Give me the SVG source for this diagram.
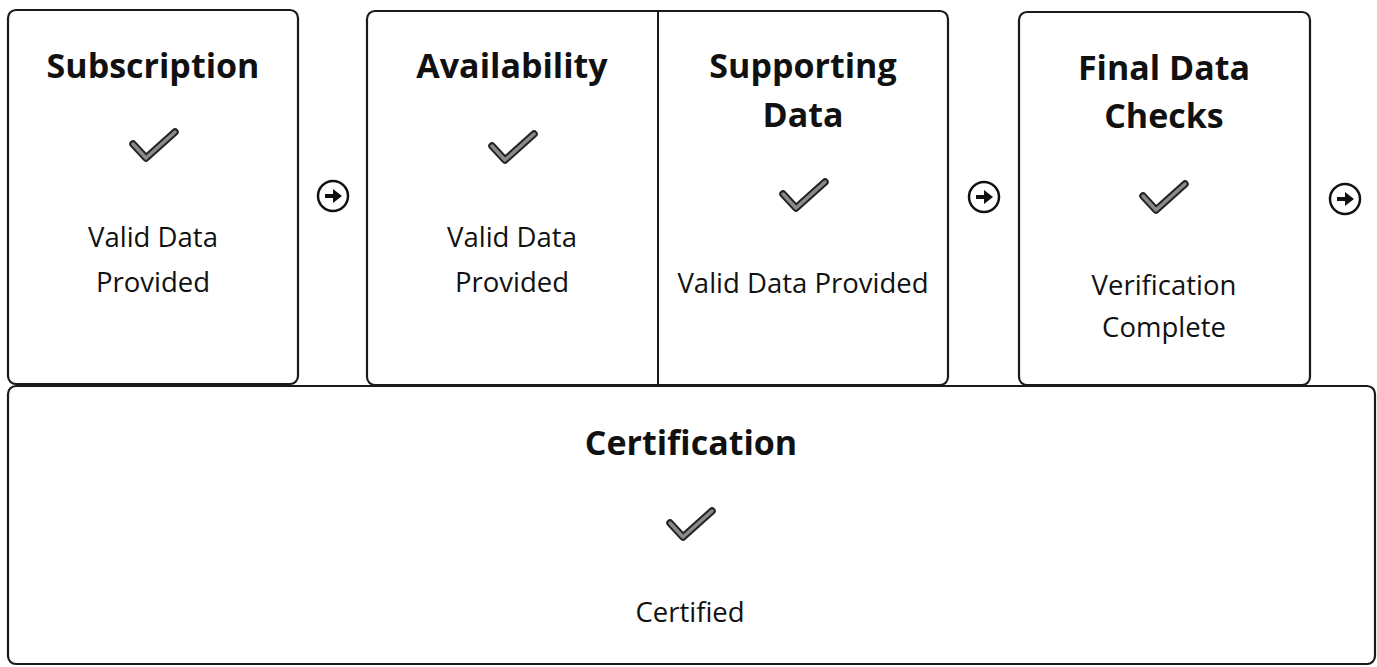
<svg xmlns="http://www.w3.org/2000/svg" xmlns:xlink="http://www.w3.org/1999/xlink" width="1377" height="667" viewBox="0 0 1377 667">
<style>
.box{fill:#fff;stroke:#1a1a1a;stroke-width:2.2}
.title{font-family:"Open Sans","Noto Sans",sans-serif;font-weight:bold;font-size:34px;fill:#111;text-anchor:middle}
.body{font-family:"Open Sans","Noto Sans",sans-serif;font-size:27.5px;fill:#111;text-anchor:middle}
</style>
<defs>
<g id="chk">
<polyline points="-21,-2 -8,12 21,-14" fill="none" stroke="#222" stroke-width="7.5" stroke-linecap="round" stroke-linejoin="round"/>
<polyline points="-21,-2 -8,12 21,-14" fill="none" stroke="#8a8a8a" stroke-width="3.5" stroke-linecap="round" stroke-linejoin="round"/>
</g>
<g id="arr">
<circle r="15" fill="#fff" stroke="#111" stroke-width="2.5"/>
<line x1="-8" y1="0" x2="1" y2="0" stroke="#111" stroke-width="4"/>
<polygon points="0,-7 9,0 0,7" fill="#111"/>
</g>
</defs>
<rect width="1377" height="667" fill="#fff"/>
<g id="certification">
<rect class="box" x="8" y="386" width="1367" height="278" rx="8"/>
<text class="title" x="691" y="455">Certification</text>
<use xlink:href="#chk" x="691" y="525"/>
<text class="body" x="690" y="622">Certified</text>
</g>
<g id="subscription">
<rect class="box" x="8" y="10" width="290" height="374" rx="8"/>
<text class="title" x="153" y="78">Subscription</text>
<use xlink:href="#chk" x="154" y="146"/>
<text class="body" x="153" y="247">Valid Data</text>
<text class="body" x="153" y="292">Provided</text>
</g>
<g id="availability-group">
<rect class="box" x="367" y="11" width="581" height="374" rx="8"/>
<line x1="658" y1="11" x2="658" y2="385" stroke="#1a1a1a" stroke-width="2"/>
</g>
<g id="availability">
<text class="title" x="512" y="78">Availability</text>
<use xlink:href="#chk" x="513" y="148"/>
<text class="body" x="512" y="247">Valid Data</text>
<text class="body" x="512" y="292">Provided</text>
</g>
<g id="supporting-data">
<text class="title" x="803" y="78">Supporting</text>
<text class="title" x="803" y="127">Data</text>
<use xlink:href="#chk" x="804" y="196"/>
<text class="body" x="803" y="293">Valid Data Provided</text>
</g>
<g id="final-data-checks">
<rect class="box" x="1019" y="12" width="291" height="373" rx="8"/>
<text class="title" x="1164" y="80">Final Data</text>
<text class="title" x="1164" y="128">Checks</text>
<use xlink:href="#chk" x="1164" y="198"/>
<text class="body" x="1164" y="295">Verification</text>
<text class="body" x="1164" y="337">Complete</text>
</g>
<g id="connectors">
<use xlink:href="#arr" x="333" y="196"/>
<use xlink:href="#arr" x="984" y="197"/>
<use xlink:href="#arr" x="1345" y="199"/>
</g>
</svg>
